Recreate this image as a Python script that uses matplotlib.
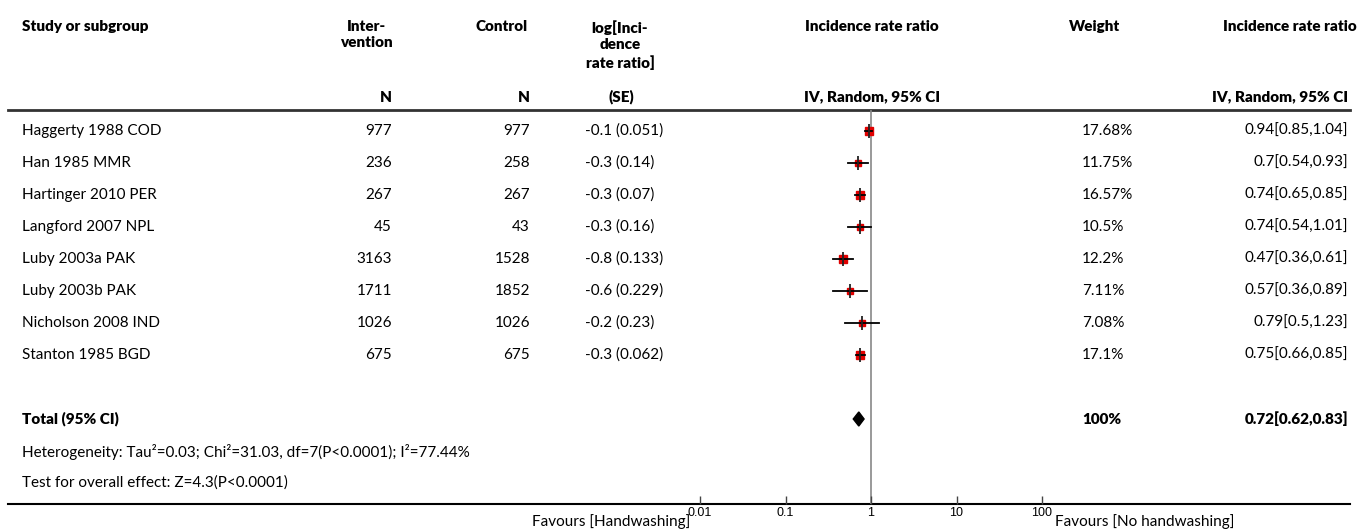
import numpy as np
import matplotlib.pyplot as plt

plt.rcParams['font.family'] = ['Lato', 'DejaVu Sans']

studies = ['Haggerty 1988 COD', 'Han 1985 MMR', 'Hartinger 2010 PER', 'Langford 2007 NPL',
           'Luby 2003a PAK', 'Luby 2003b PAK', 'Nicholson 2008 IND', 'Stanton 1985 BGD']
n_int = [977, 236, 267, 45, 3163, 1711, 1026, 675]
n_ctl = [977, 258, 267, 43, 1528, 1852, 1026, 675]
log_est = ['-0.1', '-0.3', '-0.3', '-0.3', '-0.8', '-0.6', '-0.2', '-0.3']
log_se = ['0.051', '0.14', '0.07', '0.16', '0.133', '0.229', '0.23', '0.062']
weight = [17.68, 11.75, 16.57, 10.5, 12.2, 7.11, 7.08, 17.1]
weight_lbl = ['17.68%', '11.75%', '16.57%', '10.5%', '12.2%', '7.11%', '7.08%', '17.1%']
irr = [0.94, 0.7, 0.74, 0.74, 0.47, 0.57, 0.79, 0.75]
irr_lo = [0.85, 0.54, 0.65, 0.54, 0.36, 0.36, 0.5, 0.66]
irr_hi = [1.04, 0.93, 0.85, 1.01, 0.61, 0.89, 1.23, 0.85]
irr_lbl = ['0.94[0.85,1.04]', '0.7[0.54,0.93]', '0.74[0.65,0.85]', '0.74[0.54,1.01]',
           '0.47[0.36,0.61]', '0.57[0.36,0.89]', '0.79[0.5,1.23]', '0.75[0.66,0.85]']
total_irr, total_lo, total_hi = 0.72, 0.62, 0.83
ticks = [0.01, 0.1, 1, 10, 100]
tick_lbl = ['0.01', '0.1', '1', '10', '100']

W, H = 1358, 530
fig = plt.figure(figsize=(W / 100, H / 100), dpi=100)

# background axes in pixel units for the table text
bg = fig.add_axes([0, 0, 1, 1])
bg.set_xlim(0, W)
bg.set_ylim(H, 0)
bg.axis('off')

fs = 11
bold = 'heavy'
row0, step = 131, 32
total_row = 9

def ypix(r):
    return row0 + step * r

hdr = dict(fontsize=fs, fontweight=bold, va='top', linespacing=1.3)
bg.text(22, 20, 'Study or subgroup', ha='left', **hdr)
bg.text(366, 20, 'Inter-\nvention', ha='center', **hdr)
bg.text(502, 20, 'Control', ha='center', **hdr)
bg.text(620, 20, 'log[Inci-\ndence\nrate ratio]', ha='center', **hdr)
bg.text(872, 20, 'Incidence rate ratio', ha='center', **hdr)
bg.text(1095, 20, 'Weight', ha='center', **hdr)
bg.text(1290, 20, 'Incidence rate ratio', ha='center', **hdr)

sub = dict(fontsize=fs, fontweight=bold, va='center')
bg.text(392, 97, 'N', ha='right', **sub)
bg.text(530, 97, 'N', ha='right', **sub)
bg.text(621, 97, '(SE)', ha='center', **sub)
bg.text(872, 97, 'IV, Random, 95% CI', ha='center', **sub)
bg.text(1348, 97, 'IV, Random, 95% CI', ha='right', **sub)

bg.plot([8, 1350], [110, 110], color='#333333', lw=2)
bg.plot([8, 1350], [504, 504], color='black', lw=1.5)

for i, name in enumerate(studies):
    y = ypix(i)
    kw = dict(fontsize=fs, va='center')
    bg.text(22, y, name, ha='left', **kw)
    bg.text(392, y, str(n_int[i]), ha='right', **kw)
    bg.text(530, y, str(n_ctl[i]), ha='right', **kw)
    bg.text(585, y, f'{log_est[i]} ({log_se[i]})', ha='left', **kw)
    bg.text(1082, y, weight_lbl[i], ha='left', **kw)
    bg.text(1348, y, irr_lbl[i], ha='right', **kw)

yt = ypix(total_row)
bg.text(22, yt, 'Total (95% CI)', ha='left', fontsize=fs, fontweight=bold, va='center')
bg.text(1082, yt, '100%', ha='left', fontsize=fs, fontweight=bold, va='center')
bg.text(1348, yt, f'{total_irr}[{total_lo},{total_hi}]', ha='right', fontsize=fs,
        fontweight=bold, va='center')
bg.text(22, 452, 'Heterogeneity: Tau²=0.03; Chi²=31.03, df=7(P<0.0001); I²=77.44%',
        ha='left', va='center', fontsize=fs)
bg.text(22, 483, 'Test for overall effect: Z=4.3(P<0.0001)', ha='left', va='center', fontsize=fs)
bg.text(690, 522, 'Favours [Handwashing]', ha='right', va='center', fontsize=fs)
bg.text(1055, 522, 'Favours [No handwashing]', ha='left', va='center', fontsize=fs)

# forest plot axes: 0.01 at x=700 px, 100 at x=1042 px, from header line to bottom line
x0, x1 = 700, 1042
ytop, ybot = 110, 504
ax = fig.add_axes([x0 / W, 1 - ybot / H, (x1 - x0) / W, (ybot - ytop) / H])
ax.patch.set_alpha(0)
ax.set_xscale('log')
ax.set_xlim(0.01, 100)
ax.set_ylim((ybot - row0) / step, (ytop - row0) / step)
for s in ax.spines.values():
    s.set_visible(False)
ax.set_yticks([])
ax.set_xticks(ticks)
ax.set_xticklabels(tick_lbl, fontsize=9, family=['Liberation Sans Narrow', 'Liberation Sans'])
ax.xaxis.set_minor_locator(plt.NullLocator())
ax.tick_params(axis='x', direction='in', length=6, width=1, color='#444444', pad=2)

ax.axvline(1, color='#888888', lw=1.2, zorder=1)

rows = np.arange(len(studies))
for i in rows:
    ms = 1.45 * np.sqrt(weight[i])
    ax.plot(irr[i], i, marker='s', ms=ms, color='#e00000', mec='#e00000', zorder=3)
    ax.plot([irr_lo[i], irr_hi[i]], [i, i], color='black', lw=1.3, zorder=4)
    ax.plot(irr[i], i, marker='|', ms=10, mew=1.3, color='#222222', zorder=5)

h = 0.22
ax.fill([total_lo, total_irr, total_hi, total_irr],
        [total_row, total_row - h, total_row, total_row + h], color='black', zorder=4)

fig.savefig('out.png', dpi=100)
